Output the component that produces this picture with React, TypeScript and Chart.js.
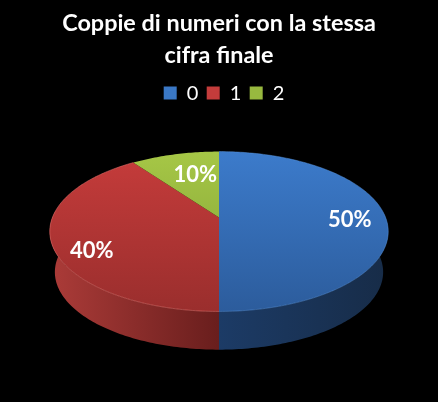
import React, { useEffect, useRef } from 'react';
import { Chart, registerables } from 'chart.js';

Chart.register(...registerables);

const categories = ['0', '1', '2'];
const percentages = [50, 40, 10];
const titleLines = ['Coppie di numeri con la stessa', 'cifra finale'];

// top / bottom of the face gradient, then wall tones (outer side, front middle)
const faceTop = ['#3c7bcb', '#c63c3b', '#a6c746'];
const faceBottom = ['#2c5c9c', '#9a2e2d', '#7f9e35'];
const wallOuter = ['#172c48', '#ab3b38', '#7f9e35'];
const wallFront = ['#1c3b66', '#691e1d', '#5f7a28'];
const legendColors = ['#3a78c6', '#c43c3b', '#98b93f'];

// where each % label sits: fraction of the radius along the slice's mid angle, plus a nudge
const labelPlace = [
  { r: 0.785, dy: 2 },
  { r: 0.77, dy: 14 },
  { r: 0.5, dy: -9 },
];

// perspective of the disc, in pixels
const TILT = 0.175;
const DISC_X = 166.6;
const DISC_Y = 77.5;
const DEPTH = 41;
const BASE_SCALE = 0.97;

const project = (angle: number, radius = 1) => {
  const u = Math.cos(angle) * radius;
  const v = Math.sin(angle) * radius;
  const w = 1 - TILT * v;
  return { x: (DISC_X * u) / w, y: (DISC_Y * v) / w };
};

const pie3d = {
  id: 'pie3d',
  afterLayout(chart: any) {
    // the legend row sits a little right of centre
    chart.legend.left += 5;
    chart.legend.right += 5;
  },
  beforeDatasetDraw(chart: any) {
    const ctx = chart.ctx;
    const arcs = chart.getDatasetMeta(0).data;
    const cx = arcs[0].x;
    const cy = arcs[0].y;

    ctx.save();

    // side wall, only the part facing the viewer
    arcs.forEach((arc: any, i: number) => {
      const angles: number[] = [];
      const steps = Math.round((arc.endAngle - arc.startAngle) * 60);
      for (let s = 0; s <= steps; s++) {
        const a = arc.startAngle + ((arc.endAngle - arc.startAngle) * s) / steps;
        if (Math.sin(a) > -0.1) angles.push(a);
      }
      if (angles.length < 2) return;
      ctx.beginPath();
      angles.forEach((a, k) => {
        const p = project(a);
        if (k === 0) ctx.moveTo(cx + p.x, cy + p.y);
        else ctx.lineTo(cx + p.x, cy + p.y);
      });
      [...angles].reverse().forEach((a) => {
        const p = project(a);
        ctx.lineTo(cx + p.x * BASE_SCALE, cy + DEPTH + p.y * BASE_SCALE);
      });
      ctx.closePath();
      const outerX = i === 0 ? cx + DISC_X : cx - DISC_X;
      const grad = ctx.createLinearGradient(outerX, 0, cx, 0);
      grad.addColorStop(0, wallOuter[i]);
      grad.addColorStop(1, wallFront[i]);
      ctx.fillStyle = grad;
      ctx.fill();
    });

    // top face
    arcs.forEach((arc: any, i: number) => {
      const steps = Math.round((arc.endAngle - arc.startAngle) * 60);
      ctx.beginPath();
      ctx.moveTo(cx, cy);
      for (let s = 0; s <= steps; s++) {
        const p = project(arc.startAngle + ((arc.endAngle - arc.startAngle) * s) / steps);
        ctx.lineTo(cx + p.x, cy + p.y);
      }
      ctx.closePath();
      const grad = ctx.createLinearGradient(0, cy - 66, 0, cy + 94);
      grad.addColorStop(0, faceTop[i]);
      grad.addColorStop(1, faceBottom[i]);
      ctx.fillStyle = grad;
      ctx.fill();
    });

    // faint lit rim on the front edge
    arcs.forEach((arc: any, i: number) => {
      if (i === 2) return;
      const steps = Math.round((arc.endAngle - arc.startAngle) * 60);
      ctx.beginPath();
      for (let s = 0; s <= steps; s++) {
        const p = project(arc.startAngle + ((arc.endAngle - arc.startAngle) * s) / steps);
        if (s === 0) ctx.moveTo(cx + p.x, cy + p.y);
        else ctx.lineTo(cx + p.x, cy + p.y);
      }
      ctx.strokeStyle = i === 1 ? 'rgba(235,120,115,0.5)' : 'rgba(90,150,225,0.45)';
      ctx.lineWidth = 1;
      ctx.stroke();
    });

    // value labels
    ctx.font = 'bold 22px Lato';
    ctx.fillStyle = '#ffffff';
    ctx.textAlign = 'center';
    ctx.textBaseline = 'middle';
    arcs.forEach((arc: any, i: number) => {
      const p = project((arc.startAngle + arc.endAngle) / 2, labelPlace[i].r);
      ctx.fillText(percentages[i] + '%', cx + p.x, cy + p.y + labelPlace[i].dy);
    });

    ctx.restore();
    return false;
  },
};

export default function App() {
  const chartRef = useRef<HTMLCanvasElement>(null);

  useEffect(() => {
    document.body.style.margin = '0';
    document.body.style.background = '#000';
    if (!chartRef.current) return;

    const chart = new Chart(chartRef.current, {
      type: 'pie',
      data: {
        labels: categories,
        datasets: [{ data: percentages, backgroundColor: legendColors, borderWidth: 0 }],
      },
      options: {
        responsive: false,
        animation: false,
        devicePixelRatio: 1,
        layout: { padding: { top: 8, bottom: 80 } },
        plugins: {
          title: {
            display: true,
            text: titleLines,
            color: '#ffffff',
            font: { family: 'Lato', size: 23.4, weight: 'bold', lineHeight: 1.36 },
            padding: { top: 0, bottom: 3 },
          },
          legend: {
            position: 'top',
            labels: {
              color: '#ffffff',
              font: { family: 'Lato', size: 20 },
              boxWidth: 13,
              boxHeight: 13,
              padding: 8.4,
            },
          },
          tooltip: { enabled: false },
        },
      },
      plugins: [pie3d],
    } as any);

    return () => {
      chart.destroy();
    };
  }, []);

  return <canvas ref={chartRef} width={438} height={402} style={{ display: 'block', background: '#000' }} />;
}
